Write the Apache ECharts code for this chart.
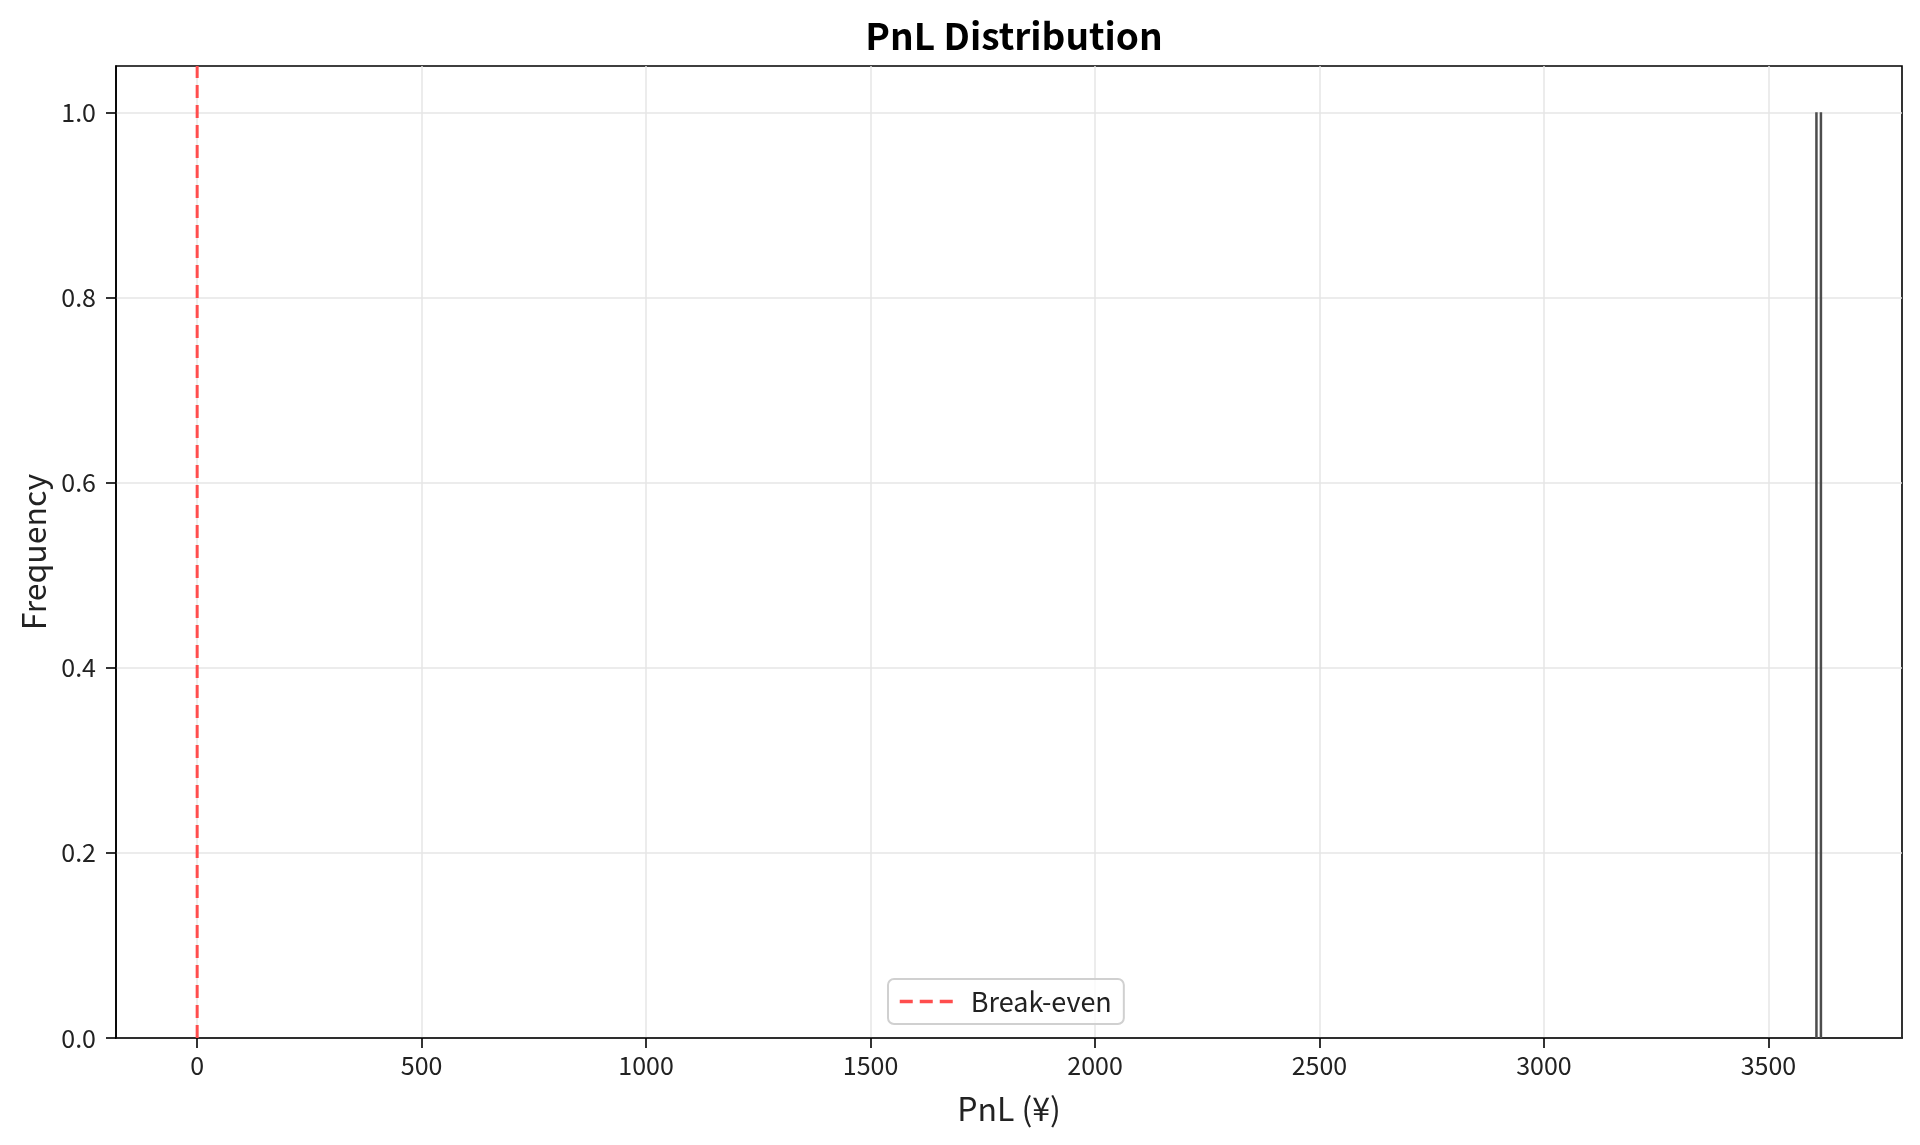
<!DOCTYPE html>
<html>
<head>
<meta charset="utf-8">
<script src="https://cdn.jsdelivr.net/npm/echarts@6/dist/echarts.min.js"></script>
<style>html,body{margin:0;padding:0;background:#fff}#c{width:1920px;height:1145px}</style>
</head>
<body>
<div id="c"></div>
<script>
const titleText = 'PnL Distribution';
const xName = 'PnL (¥)';
const yName = 'Frequency';
const legendName = 'Break-even';
const pnlValues = [3607, 3617];
const frequencies = [1, 1];
const breakEven = 0;
const xTicks = [0, 500, 1000, 1500, 2000, 2500, 3000, 3500];
const yTicks = [0, 0.2, 0.4, 0.6, 0.8, 1.0];
const xMin = -180.8, xMax = 3797.6;
const yMin = 0, yMax = 1.05;

const FONT = '"Noto Sans CJK JP", "Noto Sans", sans-serif';
const chart = echarts.init(document.getElementById('c'), null, {renderer: 'canvas'});
const barData = pnlValues.map((v, i) => [v, frequencies[i]]);
const breakEvenData = [[breakEven, yMin], [breakEven, yMax]];

chart.setOption({
  animation: false,
  backgroundColor: '#fff',
  title: {
    text: titleText, left: 1009, top: 12, textAlign: 'center',
    textStyle: {fontFamily: FONT, fontSize: 37, fontWeight: 'bold', color: '#000'}
  },
  legend: {
    data: [legendName],
    left: 888, bottom: 121,
    itemWidth: 54, itemHeight: 14, itemGap: 10,
    padding: [9, 12, 9, 10],
    borderColor: '#d0d0d0', borderWidth: 2, borderRadius: 6,
    backgroundColor: 'rgba(255,255,255,0.8)',
    itemStyle: {opacity: 0},
    lineStyle: {color: '#ff4d4d', width: 3.5, type: [13, 7]},
    textStyle: {fontFamily: FONT, fontSize: 27, color: '#222', padding: [0, 0, 0, 12]}
  },
  grid: {
    left: 116, right: 18, top: 66, bottom: 107,
    show: true, borderColor: '#000', borderWidth: 1.6, backgroundColor: 'transparent'
  },
  xAxis: {
    type: 'value', min: xMin, max: xMax,
    name: xName, nameLocation: 'middle', nameGap: 55,
    nameTextStyle: {fontFamily: FONT, fontSize: 32, color: '#222'},
    axisLine: {show: true, onZero: false, lineStyle: {color: '#000', width: 1.6}},
    axisTick: {show: true, length: 10, lineStyle: {color: '#000', width: 1.6}, customValues: xTicks},
    axisLabel: {fontFamily: FONT, fontSize: 25, color: '#222', margin: 15, customValues: xTicks,
      formatter: v => String(v)},
    splitLine: {show: true, lineStyle: {color: '#e6e6e6', width: 1.5}}
  },
  yAxis: {
    type: 'value', min: yMin, max: yMax,
    name: yName, nameLocation: 'middle', nameGap: 66,
    nameTextStyle: {fontFamily: FONT, fontSize: 32, color: '#222'},
    axisLine: {show: true, onZero: false, lineStyle: {color: '#000', width: 1.6}},
    axisTick: {show: true, length: 10, lineStyle: {color: '#000', width: 1.6}, customValues: yTicks},
    axisLabel: {fontFamily: FONT, fontSize: 25, color: '#222', margin: 20, customValues: yTicks,
      formatter: v => v.toFixed(1)},
    splitLine: {show: true, lineStyle: {color: '#e6e6e6', width: 1.5}}
  },
  series: [
    {
      name: 'PnL', type: 'bar', data: barData, barWidth: 2.5,
      itemStyle: {color: '#4d4d4d'}, z: 3
    },
    {
      name: legendName, type: 'line', data: breakEvenData,
      lineStyle: {color: '#ff4d4d', width: 3, type: [13, 7]},
      itemStyle: {color: '#ff4d4d'}, symbol: 'none', showSymbol: false, z: 4
    }
  ]
});
</script>
</body>
</html>
